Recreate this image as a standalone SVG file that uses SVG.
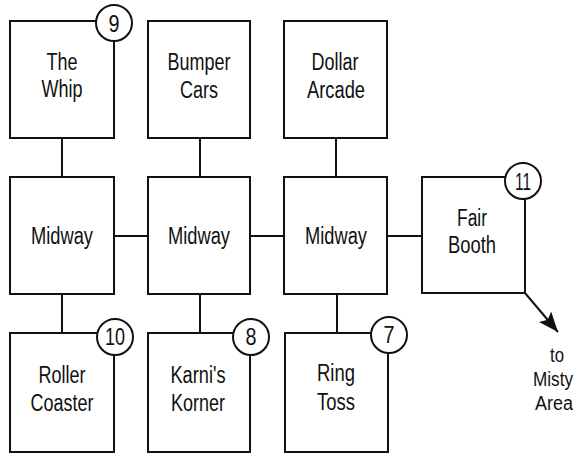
<svg xmlns="http://www.w3.org/2000/svg" width="581" height="455" viewBox="0 0 581 455">
<style>
.box{fill:#fff;stroke:#111;stroke-width:2}
.badge{fill:#fff;stroke:#111;stroke-width:2}
.con{stroke:#111;stroke-width:2;fill:none}
text{font-family:"Liberation Sans",Arial,Helvetica,sans-serif;font-size:23px;fill:#111;text-anchor:middle}
.side{font-size:20px}
</style>
<defs>
<marker id="ah" markerUnits="userSpaceOnUse" markerWidth="22" markerHeight="18" refX="20" refY="8" orient="auto">
<path d="M0,0 L20,8 L0,16 L4,8 z" fill="#111"/>
</marker>
</defs>
<rect width="581" height="455" fill="#fff"/>
<g id="connectors">
<line class="con" x1="62" y1="138" x2="62" y2="177"/>
<line class="con" x1="200" y1="138" x2="200" y2="177"/>
<line class="con" x1="336" y1="138" x2="336" y2="177"/>
<line class="con" x1="62" y1="294" x2="62" y2="333"/>
<line class="con" x1="200" y1="294" x2="200" y2="333"/>
<line class="con" x1="337" y1="294" x2="337" y2="333"/>
<line class="con" x1="114" y1="236" x2="148" y2="236"/>
<line class="con" x1="250" y1="236" x2="284" y2="236"/>
<line class="con" x1="387" y1="236" x2="422" y2="236"/>
<line class="con" x1="525" y1="293" x2="558" y2="332" marker-end="url(#ah)"/>
</g>
<g id="the-whip">
<rect class="box" x="10" y="21" width="104" height="117"/>
<circle class="badge" cx="114" cy="23" r="18"/>
<text x="114" y="32" textLength="11" lengthAdjust="spacingAndGlyphs">9</text>
<text x="62" y="70" textLength="31" lengthAdjust="spacingAndGlyphs">The</text>
<text x="62" y="97" textLength="41" lengthAdjust="spacingAndGlyphs">Whip</text>
</g>
<g id="bumper-cars">
<rect class="box" x="148" y="21" width="102" height="117"/>
<text x="199" y="70" textLength="63" lengthAdjust="spacingAndGlyphs">Bumper</text>
<text x="199" y="98" textLength="38" lengthAdjust="spacingAndGlyphs">Cars</text>
</g>
<g id="dollar-arcade">
<rect class="box" x="284" y="21" width="103" height="117"/>
<text x="335" y="70" textLength="47" lengthAdjust="spacingAndGlyphs">Dollar</text>
<text x="336" y="98" textLength="58" lengthAdjust="spacingAndGlyphs">Arcade</text>
</g>
<g id="midway-1">
<rect class="box" x="10" y="177" width="104" height="117"/>
<text x="62" y="244" textLength="62" lengthAdjust="spacingAndGlyphs">Midway</text>
</g>
<g id="midway-2">
<rect class="box" x="148" y="177" width="102" height="117"/>
<text x="199" y="244" textLength="62" lengthAdjust="spacingAndGlyphs">Midway</text>
</g>
<g id="midway-3">
<rect class="box" x="284" y="177" width="103" height="117"/>
<text x="336" y="244" textLength="62" lengthAdjust="spacingAndGlyphs">Midway</text>
</g>
<g id="fair-booth">
<rect class="box" x="422" y="177" width="103" height="116"/>
<circle class="badge" cx="523" cy="181" r="18"/>
<text x="523" y="190" textLength="16" lengthAdjust="spacingAndGlyphs">11</text>
<text x="472" y="226" textLength="30" lengthAdjust="spacingAndGlyphs">Fair</text>
<text x="472" y="253" textLength="48" lengthAdjust="spacingAndGlyphs">Booth</text>
</g>
<g id="roller-coaster">
<rect class="box" x="10" y="333" width="104" height="119"/>
<circle class="badge" cx="115" cy="337" r="18"/>
<text x="115" y="345" textLength="20" lengthAdjust="spacingAndGlyphs">10</text>
<text x="62" y="383" textLength="47" lengthAdjust="spacingAndGlyphs">Roller</text>
<text x="62" y="411" textLength="63" lengthAdjust="spacingAndGlyphs">Coaster</text>
</g>
<g id="karnis-korner">
<rect class="box" x="148" y="333" width="102" height="119"/>
<circle class="badge" cx="251" cy="337" r="18"/>
<text x="251" y="345" textLength="11" lengthAdjust="spacingAndGlyphs">8</text>
<text x="198" y="383" textLength="55" lengthAdjust="spacingAndGlyphs">Karni's</text>
<text x="198" y="411" textLength="54" lengthAdjust="spacingAndGlyphs">Korner</text>
</g>
<g id="ring-toss">
<rect class="box" x="285" y="333" width="103" height="119"/>
<circle class="badge" cx="389" cy="335" r="18"/>
<text x="389" y="343" textLength="11" lengthAdjust="spacingAndGlyphs">7</text>
<text x="336" y="381" textLength="38" lengthAdjust="spacingAndGlyphs">Ring</text>
<text x="336" y="410" textLength="38" lengthAdjust="spacingAndGlyphs">Toss</text>
</g>
<g id="misty-area-label">
<text class="side" x="557" y="362" textLength="14" lengthAdjust="spacingAndGlyphs">to</text>
<text class="side" x="553" y="386" textLength="40" lengthAdjust="spacingAndGlyphs">Misty</text>
<text class="side" x="554" y="410" textLength="38" lengthAdjust="spacingAndGlyphs">Area</text>
</g>
</svg>
